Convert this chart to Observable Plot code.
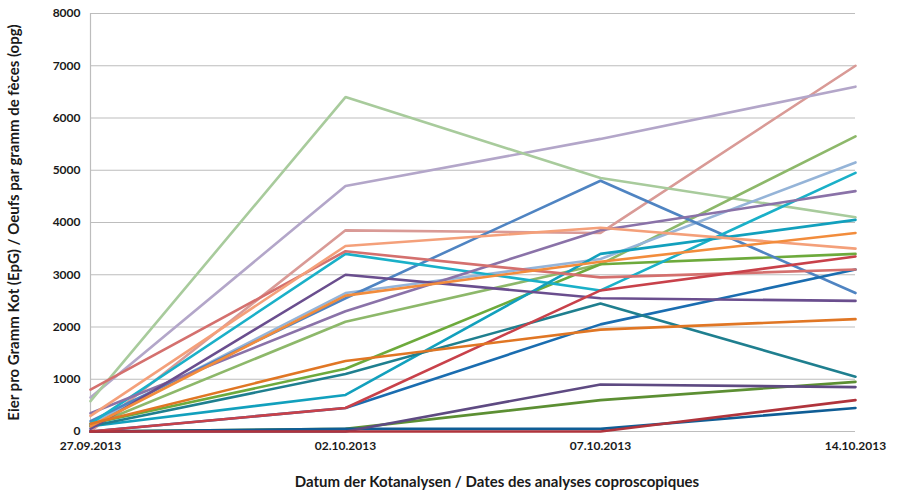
<!DOCTYPE html>
<html><head><meta charset="utf-8">
<script src="https://cdn.jsdelivr.net/npm/d3@7"></script>
<script src="https://cdn.jsdelivr.net/npm/@observablehq/plot@0.6"></script>
<style>
body{margin:0;background:#fff}
svg [aria-label="y-axis label"], svg [aria-label="x-axis label"]{font-size:15px}
</style>
</head><body><div id="chart"></div>
<script>
const dates = ["27.09.2013","02.10.2013","07.10.2013","14.10.2013"];
const yTicks = [0,1000,2000,3000,4000,5000,6000,7000,8000];
const yTitle = "Eier pro Gramm Kot (EpG) / Oeufs par gramm de fèces (opg)";
const xTitle = "Datum der Kotanalysen / Dates des analyses coproscopiques";

const seriesNames = ["A01","A02","A03","A04","A05","A06","A07","A08","A09","A10","A11",
                     "A12","A13","A14","A15","A16","A17","A18","A19","A20","A21","A22"];
const seriesValues = [
  [0,3850,3800,7000],    // pink
  [650,4700,5600,6600],  // lavender
  [580,6400,4850,4100],  // pale green
  [100,2100,3200,5650],  // light green
  [150,1200,3200,3400],  // green
  [0,50,600,950],        // dark green
  [150,2650,3300,5150],  // light blue
  [200,2550,4800,2650],  // blue
  [0,450,2050,3100],     // dark blue
  [0,50,50,450],         // dark blue 2
  [150,3400,2700,4950],  // cyan
  [100,700,3400,4050],   // aqua
  [100,1100,2450,1050],  // teal
  [350,2300,3850,4600],  // purple
  [50,3000,2550,2500],   // dark purple
  [0,0,900,850],         // dark purple 2
  [800,3450,2950,3100],  // rose
  [0,450,2700,3350],     // red
  [0,0,0,600],           // dark red
  [300,3550,3900,3500],  // salmon
  [100,2600,3250,3800],  // orange
  [150,1350,1950,2150]   // dark orange
];
const seriesColors = ["#D99A96","#B3A6C9","#A8CB9C","#8DB86A","#6DAA3C","#5C8F33",
  "#95B4D8","#4F84C2","#1A6DB0","#0F5D95","#1AB0C8","#12A0BD","#1F7F8F",
  "#8A72A8","#6A4E8E","#5E4A82","#D4706E","#C8414A","#B0343C","#F4A07A","#F28C3C","#E07624"];

const data = [];
seriesValues.forEach((vals, i) => {
  vals.forEach((v, j) => data.push({series: seriesNames[i], color: seriesColors[i], date: dates[j], value: v}));
});

const chart = Plot.plot({
  width: 901, height: 492,
  marginLeft: 90, marginRight: 46, marginTop: 13, marginBottom: 61,
  style: {fontFamily: "Lato, 'Open Sans', sans-serif", fontWeight: "bold", fontSize: "12px", color: "#1a1a1a", background: "#fff"},
  x: {type: "point", domain: dates, padding: 0},
  y: {domain: [0, 8000]},
  marks: [
    Plot.gridY(yTicks, {stroke: "#bdbdbd", strokeOpacity: 1, strokeWidth: 1.2}),
    Plot.ruleX([dates[0]], {stroke: "#bdbdbd", strokeWidth: 1.2}),
    Plot.axisY(yTicks, {tickSize: 0, tickPadding: 10, tickFormat: d => String(d),
      label: yTitle, labelAnchor: "center", labelOffset: 82, labelArrow: false}),
    Plot.axisX({tickSize: 0, tickPadding: 10, label: xTitle, labelAnchor: "center", labelOffset: 55, labelArrow: false}),
    Plot.line(data, {x: "date", y: "value", z: "series", stroke: "color", strokeWidth: 2.6, strokeLinejoin: "miter"})
  ]
});
d3.select(chart).selectAll('[aria-label="y-axis label"] text, [aria-label="x-axis label"] text')
  .text(function() { return d3.select(this).text().replace(/\s*[→↑↓←]\s*/g, "").trim(); });
d3.select(chart).selectAll('[aria-label="x-axis label"] text').attr("dx", 24);
document.getElementById("chart").appendChild(chart);
</script>
</body></html>
